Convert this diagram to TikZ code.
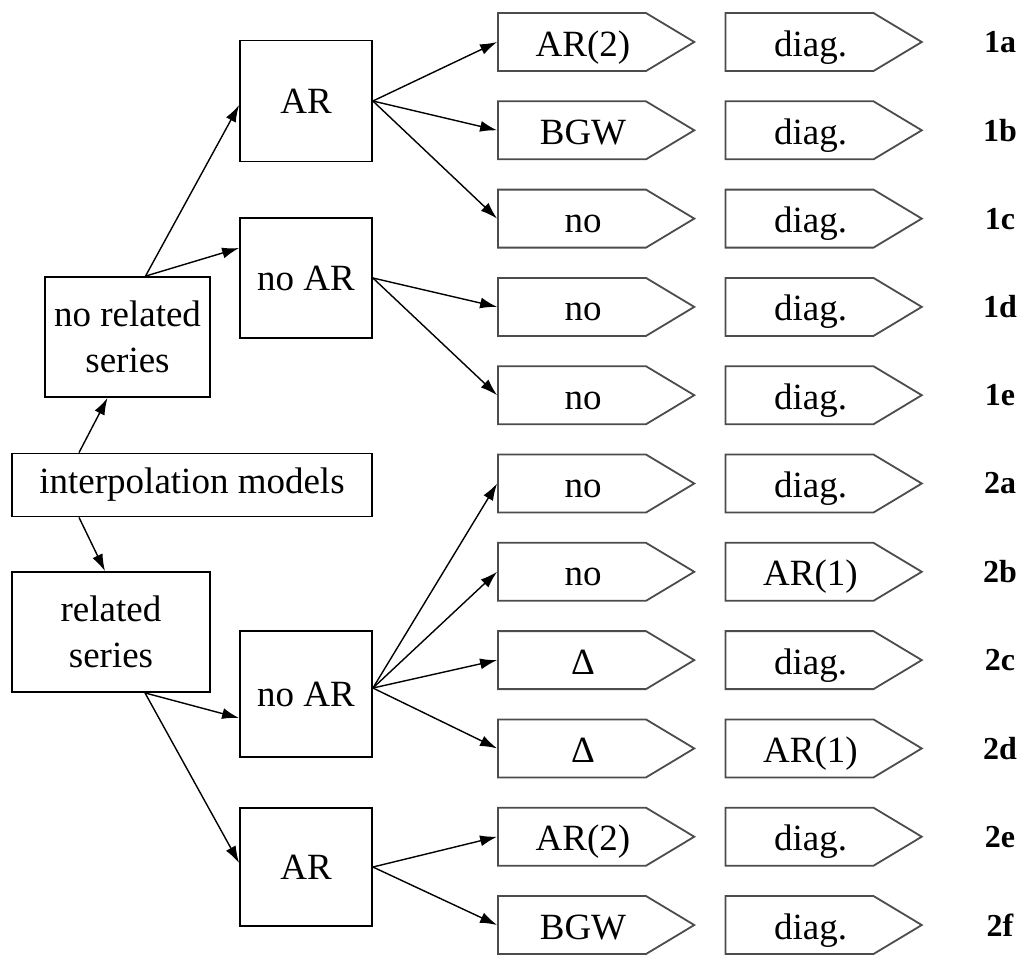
\documentclass[tikz,border=0pt]{standalone}
\usepackage{fontspec}
\setmainfont{Liberation Serif}
\usepackage{tikz}
\usetikzlibrary{shapes.symbols, arrows.meta}
\tikzstyle{block} = [draw, fill=white, rectangle, line width=0.9pt, inner sep=2pt, align=center, font=\fontsize{18.5}{23}\selectfont]
\tikzstyle{flag} = [draw=black!70, fill=white, signal, signal to=east, signal pointer angle=62, text width=74pt, align=center, text height=14.5pt, text depth=0.5pt, minimum height=29pt, inner sep=0pt, line width=0.9pt, font=\fontsize{18.5}{23}\selectfont, execute at begin node={\hspace*{11pt}}]
\tikzstyle{tag} = [font=\fontsize{16}{18}\selectfont\bfseries]

\begin{document}
\begin{tikzpicture}[x=0.5pt, y=-0.5pt, >={Latex[length=8.5pt,width=5.5pt]}, line width=0.7pt]
  \useasboundingbox (0,0) rectangle (1026,955);
  % tree part
  \node [block, minimum width=180pt, minimum height=31.5pt] (models) at (192,485) {interpolation models};
  \node [block, minimum width=82.5pt, minimum height=60pt] (norel) at (127.5,337) {no related\\series};
  \node [block, minimum width=99pt, minimum height=60pt] (rel) at (111,632) {related\\series};
  \node [block, minimum width=66pt, minimum height=60.5pt] (arA) at (306,101) {AR};
  \node [block, minimum width=66pt, minimum height=60pt] (noarA) at (306,278) {no AR};
  \node [block, minimum width=66pt, minimum height=63pt] (noarB) at (306,694) {no AR};
  \node [block, minimum width=66pt, minimum height=59pt] (arB) at (306,867) {AR};
  % first column
  \node [flag] (c1a) at (572,42) {AR(2)};
  \node [flag, below of=c1a, node distance=44.15pt] (c1b) {BGW};
  \node [flag, below of=c1b, node distance=44.15pt] (c1c) {no};
  \node [flag, below of=c1c, node distance=44.15pt] (c1d) {no};
  \node [flag, below of=c1d, node distance=44.15pt] (c1e) {no};
  \node [flag, below of=c1e, node distance=44.15pt] (c2a) {no};
  \node [flag, below of=c2a, node distance=44.15pt] (c2b) {no};
  \node [flag, below of=c2b, node distance=44.15pt] (c2c) {Δ};
  \node [flag, below of=c2c, node distance=44.15pt] (c2d) {Δ};
  \node [flag, below of=c2d, node distance=44.15pt] (c2e) {AR(2)};
  \node [flag, below of=c2e, node distance=44.15pt] (c2f) {BGW};
  % second column
  \node [flag, right of=c1a, node distance=113.75pt] (d1a) {diag.};
  \node [flag, right of=c1b, node distance=113.75pt] (d1b) {diag.};
  \node [flag, right of=c1c, node distance=113.75pt] (d1c) {diag.};
  \node [flag, right of=c1d, node distance=113.75pt] (d1d) {diag.};
  \node [flag, right of=c1e, node distance=113.75pt] (d1e) {diag.};
  \node [flag, right of=c2a, node distance=113.75pt] (d2a) {diag.};
  \node [flag, right of=c2b, node distance=113.75pt] (d2b) {AR(1)};
  \node [flag, right of=c2c, node distance=113.75pt] (d2c) {diag.};
  \node [flag, right of=c2d, node distance=113.75pt] (d2d) {AR(1)};
  \node [flag, right of=c2e, node distance=113.75pt] (d2e) {diag.};
  \node [flag, right of=c2f, node distance=113.75pt] (d2f) {diag.};
  % model names
  \node [tag, right of=d1a, node distance=100.25pt] (l1a) {1a};
  \node [tag, right of=d1b, node distance=100.25pt] (l1b) {1b};
  \node [tag, right of=d1c, node distance=100.25pt] (l1c) {1c};
  \node [tag, right of=d1d, node distance=100.25pt] (l1d) {1d};
  \node [tag, right of=d1e, node distance=100.25pt] (l1e) {1e};
  \node [tag, right of=d2a, node distance=100.25pt] (l2a) {2a};
  \node [tag, right of=d2b, node distance=100.25pt] (l2b) {2b};
  \node [tag, right of=d2c, node distance=100.25pt] (l2c) {2c};
  \node [tag, right of=d2d, node distance=100.25pt] (l2d) {2d};
  \node [tag, right of=d2e, node distance=100.25pt] (l2e) {2e};
  \node [tag, right of=d2f, node distance=100.25pt] (l2f) {2f};
  % edges
  \draw [->] ([xshift=-56.5pt]models.north) -- ([xshift=-10pt]norel.south);
  \draw [->] ([xshift=-56.5pt]models.south) -- ([xshift=-3pt]rel.north);
  \draw [->] ([xshift=9pt]norel.north) -- ([yshift=-2pt]arA.west);
  \draw [->] ([xshift=9pt]norel.north) -- ([yshift=15pt]noarA.west);
  \draw [->] ([xshift=17pt]rel.south) -- ([yshift=-12pt]noarB.west);
  \draw [->] ([xshift=17pt]rel.south) -- ([yshift=2pt]arB.west);
  \draw [->] (arA.east) -- (c1a.west);
  \draw [->] (arA.east) -- (c1b.west);
  \draw [->] (arA.east) -- (c1c.west);
  \draw [->] (noarA.east) -- (c1d.west);
  \draw [->] (noarA.east) -- (c1e.west);
  \draw [->] ([yshift=3pt]noarB.east) -- (c2a.west);
  \draw [->] ([yshift=3pt]noarB.east) -- (c2b.west);
  \draw [->] ([yshift=3pt]noarB.east) -- (c2c.west);
  \draw [->] ([yshift=3pt]noarB.east) -- (c2d.west);
  \draw [->] (arB.east) -- (c2e.west);
  \draw [->] (arB.east) -- (c2f.west);
\end{tikzpicture}
\end{document}
